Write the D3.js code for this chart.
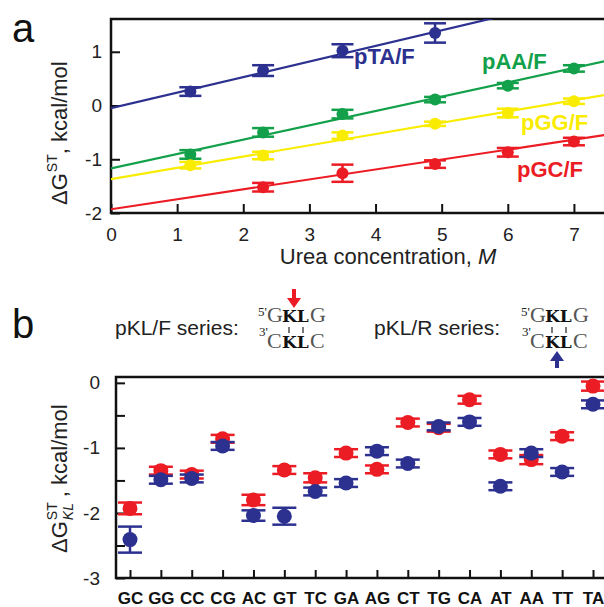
<!DOCTYPE html>
<html>
<head>
<meta charset="utf-8">
<script src="https://cdn.jsdelivr.net/npm/d3@7"></script>
<style>
  body { margin: 0; background: #fff; }
  svg { display: block; font-family: "Liberation Sans", Arial, sans-serif; }
</style>
</head>
<body>
<div id="fig"></div>
<script>
// ---- panel a data (urea titration) ----
var taX = [1.2, 2.3, 3.5, 4.9];
var taY = [0.26, 0.65, 1.02, 1.35];
var taErr = [0.08, 0.10, 0.12, 0.18];

var aaX = [1.2, 2.3, 3.5, 4.9, 6.0, 7.0];
var aaY = [-0.91, -0.50, -0.16, 0.11, 0.37, 0.69];
var aaErr = [0.08, 0.08, 0.08, 0.05, 0.05, 0.06];

var ggX = [1.2, 2.3, 3.5, 4.9, 6.0, 7.0];
var ggY = [-1.11, -0.93, -0.56, -0.34, -0.14, 0.08];
var ggErr = [0.06, 0.07, 0.06, 0.04, 0.08, 0.05];

var gcX = [2.3, 3.5, 4.9, 6.0, 7.0];
var gcY = [-1.52, -1.26, -1.09, -0.87, -0.67];
var gcErr = [0.08, 0.16, 0.07, 0.08, 0.07];

var seriesNames = ["pTA/F", "pAA/F", "pGG/F", "pGC/F"];
var fitIntercept = [-0.05, -1.17, -1.37, -1.93];
var fitSlope = [0.29, 0.267, 0.21, 0.185];

var ureaTicks = [0, 1, 2, 3, 4, 5, 6, 7];
var dgTicksA = [-2, -1, 0, 1];

// ---- panel b data (stacking free energies) ----
var pairs = ["GC","GG","CC","CG","AC","GT","TC","GA","AG","CT","TG","CA","AT","AA","TT","TA"];
var fwdDG = [-1.93,-1.35,-1.41,-0.86,-1.80,-1.34,-1.46,-1.08,-1.33,-0.61,-0.69,-0.26,-1.10,-1.18,-0.82,-0.05];
var fwdErr = [0.09,0.06,0.06,0.06,0.08,0.06,0.07,0.06,0.06,0.06,0.06,0.06,0.06,0.07,0.06,0.07];
var revDG = [-2.41,-1.49,-1.47,-0.97,-2.04,-2.05,-1.67,-1.54,-1.05,-1.24,-0.67,-0.60,-1.59,-1.08,-1.37,-0.33];
var revErr = [0.20,0.06,0.06,0.06,0.08,0.13,0.06,0.06,0.06,0.06,0.06,0.06,0.06,0.06,0.06,0.06];
var dgTicksB = [-3, -2, -1, 0];
var dgMinorB = [-2.5, -1.5, -0.5];

var blue = "#2c3190", green = "#13a04a", yellow = "#f9ec00", red = "#ec1c24";

var W = 604, H = 607;
var svg = d3.select("#fig").append("svg").attr("width", W).attr("height", H);
var plain = function(d) { return String(d); };

// ================= panel a =================
var ax = { left: 111, right: 607, top: 19, bottom: 213 };
var xA = d3.scaleLinear().domain([0, 7.5]).range([ax.left, ax.right]);
var yA = d3.scaleLinear().domain([-2, 1.61]).range([ax.bottom, ax.top]);

svg.append("clipPath").attr("id", "clipA").append("rect")
  .attr("x", ax.left).attr("y", ax.top).attr("width", ax.right - ax.left).attr("height", ax.bottom - ax.top);

svg.append("g")
  .attr("transform", "translate(0," + ax.bottom + ")")
  .call(d3.axisBottom(xA).tickValues(ureaTicks).tickFormat(plain).tickSize(-9).tickSizeOuter(0).tickPadding(15))
  .call(styleAxis, 19);
svg.append("g")
  .attr("transform", "translate(" + ax.left + ",0)")
  .call(d3.axisLeft(yA).tickValues(dgTicksA).tickFormat(plain).tickSize(-9).tickSizeOuter(0).tickPadding(9))
  .call(styleAxis, 19);

frame(ax);

var setsA = [
  { x: taX, y: taY, e: taErr, c: blue },
  { x: aaX, y: aaY, e: aaErr, c: green },
  { x: ggX, y: ggY, e: ggErr, c: yellow },
  { x: gcX, y: gcY, e: gcErr, c: red }
];

var plotA = svg.append("g").attr("clip-path", "url(#clipA)");
setsA.forEach(function(s, i) {
  var line = d3.line().x(function(d) { return xA(d); })
    .y(function(d) { return yA(fitIntercept[i] + fitSlope[i] * d); });
  plotA.append("path").datum([0, 7.5]).attr("d", line)
    .attr("fill", "none").attr("stroke", s.c).attr("stroke-width", 2.2);
});
setsA.forEach(function(s) {
  var pts = s.x.map(function(v, j) { return { x: v, y: s.y[j], e: s.e[j] }; });
  drawPoints(plotA, pts, xA, yA, s.c, 6, 11);
});

var labA = [
  { x: 354, y: 64, c: blue },
  { x: 482, y: 69, c: green },
  { x: 521, y: 130, c: yellow },
  { x: 517, y: 177, c: red }
];
labA.forEach(function(l, i) {
  svg.append("text").attr("x", l.x).attr("y", l.y).attr("fill", l.c)
    .attr("font-size", 22).attr("font-weight", "bold").text(seriesNames[i]);
});

var xl = svg.append("text").attr("x", 388).attr("y", 264).attr("text-anchor", "middle")
  .attr("font-size", 22).attr("fill", "#222");
xl.append("tspan").text("Urea concentration, ");
xl.append("tspan").attr("font-style", "italic").text("M");

yLabel(67, 205, false);

svg.append("text").attr("x", 12).attr("y", 42).attr("font-size", 40).attr("fill", "#111").text("a");

// ================= panel b =================
var bx = { left: 116, right: 607, top: 377, bottom: 578 };
var xB = d3.scalePoint().domain(pairs).range([130, 593]);
var yB = d3.scaleLinear().domain([-3, 0.09]).range([bx.bottom, bx.top]);

svg.append("g")
  .attr("transform", "translate(0," + bx.bottom + ")")
  .call(d3.axisBottom(xB).tickSize(-8).tickSizeOuter(0).tickPadding(14))
  .call(styleAxis, 17)
  .selectAll("text").attr("font-weight", "bold").attr("fill", "#111");
svg.append("g")
  .attr("transform", "translate(" + bx.left + ",0)")
  .call(d3.axisLeft(yB).tickValues(dgTicksB).tickSize(-9).tickSizeOuter(0).tickPadding(16)
    .tickFormat(plain))
  .call(styleAxis, 19);
svg.append("g")
  .attr("transform", "translate(" + bx.left + ",0)")
  .call(d3.axisLeft(yB).tickValues(dgMinorB).tickSize(-9).tickSizeOuter(0).tickFormat(""))
  .call(styleAxis, 19);

frame(bx);

var fwdPts = pairs.map(function(p, i) { return { x: p, y: fwdDG[i], e: fwdErr[i] }; });
var revPts = pairs.map(function(p, i) { return { x: p, y: revDG[i], e: revErr[i] }; });
drawPoints(svg, fwdPts, xB, yB, red, 7.5, 12);
drawPoints(svg, revPts, xB, yB, blue, 7.5, 12);

yLabel(67, 553, true);

svg.append("text").attr("x", 12).attr("y", 338).attr("font-size", 40).attr("fill", "#111").text("b");

svg.append("text").attr("x", 115).attr("y", 335).attr("font-size", 21).attr("fill", "#222").text("pKL/F series:");
svg.append("text").attr("x", 374).attr("y", 335).attr("font-size", 21).attr("fill", "#222").text("pKL/R series:");

duplex(258);
duplex(521);
arrow(294, 289, 308, red);
arrow(557, 368, 351, blue);

// ---------- helpers ----------
function styleAxis(g, fs) {
  g.select(".domain").remove();
  g.selectAll(".tick line").attr("stroke", "#111").attr("stroke-width", 2);
  g.selectAll(".tick text").attr("font-size", fs).attr("font-family", "Liberation Sans, Arial, sans-serif")
    .attr("fill", "#222");
}

function frame(b) {
  svg.append("path")
    .attr("d", "M" + b.right + "," + b.top + "H" + b.left + "V" + b.bottom + "H" + b.right)
    .attr("fill", "none").attr("stroke", "#111").attr("stroke-width", 2.5);
}

function drawPoints(g, pts, xs, ys, col, r, cap) {
  var gg = g.append("g");
  pts.forEach(function(d) {
    var cx = xs(d.x), y0 = ys(d.y - d.e), y1 = ys(d.y + d.e);
    gg.append("line").attr("x1", cx).attr("x2", cx).attr("y1", y0).attr("y2", y1)
      .attr("stroke", col).attr("stroke-width", 2.5);
    [y0, y1].forEach(function(yy) {
      gg.append("line").attr("x1", cx - cap).attr("x2", cx + cap).attr("y1", yy).attr("y2", yy)
        .attr("stroke", col).attr("stroke-width", 2.5);
    });
    gg.append("circle").attr("cx", cx).attr("cy", ys(d.y)).attr("r", r).attr("fill", col);
  });
}

function yLabel(bx0, by0, sub) {
  var g = svg.append("g").attr("transform", "translate(" + bx0 + "," + by0 + ") rotate(-90)");
  var t = g.append("text").attr("font-size", 22).attr("fill", "#222");
  t.append("tspan").attr("x", 0).attr("y", 0).text("\u0394G");
  var w = t.node().getComputedTextLength();
  t.append("tspan").attr("x", w + 1).attr("y", -10).attr("font-size", 14).text("ST");
  var w2 = 19;
  if (sub) {
    t.append("tspan").attr("x", w + 1).attr("y", 6).attr("font-size", 14)
      .attr("font-style", "italic").text("KL");
    w2 = 24;
  }
  t.append("tspan").attr("x", w + w2).attr("y", 0).text(", kcal/mol");
}

// duplex sketch drawn as one text element so the pieces stay together
function duplex(x0) {
  var serif = "Liberation Serif, Times New Roman, serif";
  var t = svg.append("text").attr("font-family", serif).attr("fill", "#555");
  t.append("tspan").attr("x", x0).attr("y", 316).attr("font-size", 13).attr("fill", "#222").text("5'");
  t.append("tspan").attr("x", x0 + 1).attr("y", 336).attr("font-size", 13).attr("fill", "#222").text("3'");
  [["G", 322], ["C", 348]].forEach(function(row) {
    t.append("tspan").attr("x", x0 + 9).attr("y", row[1]).attr("font-size", 22).text(row[0]);
    t.append("tspan").attr("x", x0 + 24).attr("y", row[1]).attr("font-size", 17)
      .attr("font-family", "DejaVu Serif, serif").attr("font-weight", "bold").attr("fill", "#111").text("KL");
    t.append("tspan").attr("x", x0 + 52).attr("y", row[1]).attr("font-size", 22).text(row[0]);
  });
  [x0 + 31, x0 + 45].forEach(function(tx) {
    svg.append("line").attr("x1", tx).attr("x2", tx).attr("y1", 327).attr("y2", 333)
      .attr("stroke", "#333").attr("stroke-width", 1.3);
  });
}

function arrow(x, yTail, yTip, col) {
  var dir = yTip > yTail ? 1 : -1;
  var headLen = 10, headW = 7;
  svg.append("line").attr("x1", x).attr("x2", x).attr("y1", yTail).attr("y2", yTip - dir * headLen + dir)
    .attr("stroke", col).attr("stroke-width", 4);
  svg.append("path")
    .attr("d", "M" + (x - headW) + "," + (yTip - dir * headLen) + "L" + (x + headW) + "," + (yTip - dir * headLen) +
      "L" + x + "," + yTip + "Z")
    .attr("fill", col);
}
</script>
</body>
</html>
